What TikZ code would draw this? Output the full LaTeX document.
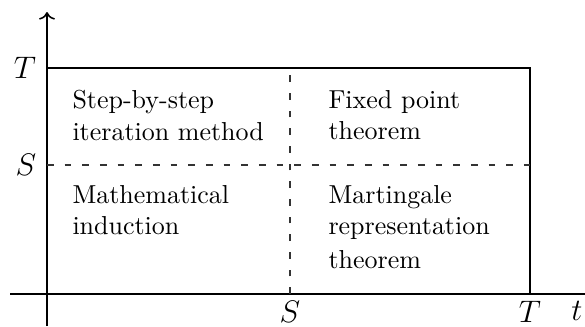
\documentclass[tikz,border=0pt]{standalone}
\usepackage{tikz}
\usetikzlibrary{arrows.meta, positioning, calc}
\tikzset{
    axis/.style={line width=0.6pt, black},
    split/.style={dash pattern=on 2.6pt off 4.2pt, line width=0.4pt, black!80},
    cell/.style={align=left, anchor=north west, inner sep=0pt},
    tick/.style={inner sep=4pt, font=\large},
    btick/.style={inner sep=2.5pt, font=\large}
}

\begin{document}
\begin{tikzpicture}[x=0.385pt, y=-0.385pt]
    \useasboundingbox (0,0) rectangle (585,326);
    % axes
    \coordinate (tFrom) at (10,294);
    \coordinate (tTo) at (585,294);
    \coordinate (yFrom) at (47,326);
    \coordinate (yTo) at (47,12);
    % corners of the square
    \coordinate (O) at (47,294);
    \coordinate (TT) at (530,68);
    \coordinate (T0) at (530,294);
    \coordinate (0T) at (47,68);
    \coordinate (S0) at (290,294);
    \coordinate (ST) at (290,68);
    \coordinate (0S) at (47,165);
    \coordinate (TS) at (530,165);

    \draw[axis] (tFrom) -- (tTo);
    \draw[axis, ->] (yFrom) -- (yTo);
    \draw[axis] (0T) -- (TT) -- (T0);
    \draw[split] (S0) -- (ST);
    \draw[split] (0S) -- (TS);

    \node[tick, left] (labT) at (0T) {$T$};
    \node[tick, left] (labS) at (0S) {$S$};
    \node[btick, below] (labSb) at (S0) {$S$};
    \node[btick, below] (labTb) at (T0) {$T$};
    \node[btick, below] (labt) at (577,294) {$t$};

    \node[cell] (stepit) at (72,90) {Step-by-step\\iteration method};
    \node[cell] (fixpt) at (328,90) {Fixed point\\theorem};
    \node[cell] (induct) at (72,185) {Mathematical\\induction};
    \node[cell] (martrep) at (328,185) {Martingale\\representation\\[1pt]theorem};
\end{tikzpicture}
\end{document}
